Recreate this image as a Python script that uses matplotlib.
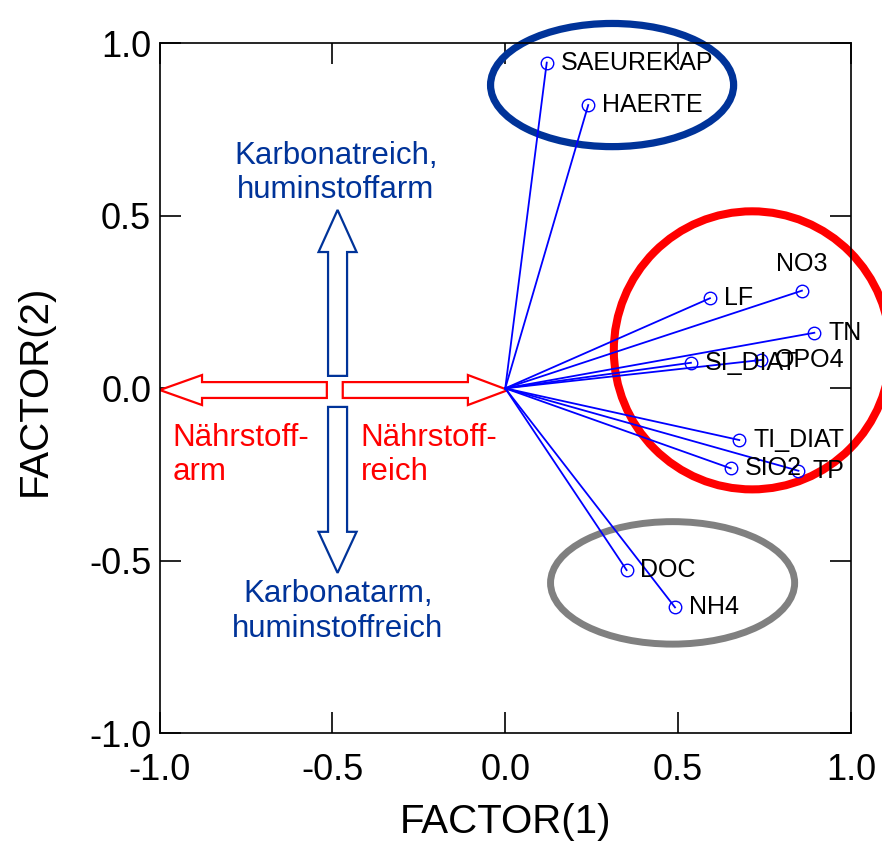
import matplotlib
matplotlib.use("Agg")
import matplotlib.pyplot as plt
from matplotlib.patches import Ellipse, FancyArrow

plt.rcParams['font.family'] = ['Liberation Sans', 'DejaVu Sans']

# ---- data ----
variables = ["SAEUREKAP", "HAERTE", "LF", "NO3", "TN", "SI_DIAT", "OPO4",
             "TI_DIAT", "SIO2", "TP", "DOC", "NH4"]
factor1 = [0.120, 0.240, 0.592, 0.858, 0.894, 0.537, 0.740,
           0.677, 0.652, 0.848, 0.351, 0.491]
factor2 = [0.944, 0.821, 0.261, 0.283, 0.161, 0.074, 0.082,
           -0.150, -0.232, -0.239, -0.527, -0.635]
ticks = [-1.0, -0.5, 0.0, 0.5, 1.0]
tick_labels = ["-1.0", "-0.5", "0.0", "0.5", "1.0"]

# label offsets in points (styling)
label_offsets = {"NO3": (0, 19)}
label_ha = {"NO3": "center"}

fig = plt.figure(figsize=(8.82, 8.42), dpi=100)
ax = fig.add_axes([159.5 / 882, 1 - 733.3 / 842, 691.5 / 882, 690 / 842])
ax.set_xlim(-1, 1)
ax.set_ylim(-1, 1)

line_blue = "#0000ff"
dark_blue = "#003399"

for name, x, y in zip(variables, factor1, factor2):
    ax.plot([0, x], [0, y], color=line_blue, lw=1.3, zorder=3)
    ax.plot([x], [y], marker="o", ms=9, mfc="none", mec=line_blue, mew=1.0, zorder=4)
    dx, dy = label_offsets.get(name, (10, 0))
    ax.annotate(name, (x, y), xytext=(dx, dy), textcoords="offset points",
                ha=label_ha.get(name, "left"), va="center", fontsize=18,
                color="black", zorder=5)

# ellipses
ax.add_patch(Ellipse((0.309, 0.879), 0.703, 0.357, fill=False, ec=dark_blue,
                     lw=5.2, clip_on=False, zorder=2))
ax.add_patch(Ellipse((0.714, 0.110), 0.80, 0.806, fill=False, ec="#ff0000",
                     lw=5.8, clip_on=False, zorder=2))
ax.add_patch(Ellipse((0.484, -0.564), 0.706, 0.355, fill=False, ec="#808080",
                     lw=5, clip_on=False, zorder=2))

# arrows
def arrow(x0, y0, x1, y1, w, hw, hl, color):
    ax.add_patch(FancyArrow(x0, y0, x1 - x0, y1 - y0, width=w, head_width=hw,
                            head_length=hl, length_includes_head=True,
                            fc="white", ec=color, lw=1.6, zorder=2))

arrow(-0.516, -0.005, -0.999, -0.005, 0.046, 0.087, 0.122, "#ff0000")
arrow(-0.470, -0.005, 0.008, -0.005, 0.046, 0.087, 0.116, "#ff0000")
arrow(-0.485, 0.036, -0.485, 0.517, 0.055, 0.11, 0.122, dark_blue)
arrow(-0.485, -0.054, -0.485, -0.535, 0.055, 0.11, 0.119, dark_blue)

# annotations
ax.text(-0.49, 0.624, "Karbonatreich,\nhuminstoffarm", ha="center", va="center",
        fontsize=22.5, color=dark_blue)
ax.text(-0.484, -0.647, "Karbonatarm,\nhuminstoffreich", ha="center", va="center",
        fontsize=22.5, color=dark_blue)
ax.text(-0.962, -0.193, "Nährstoff-\narm", ha="left", va="center",
        fontsize=22.5, color="#ff0000")
ax.text(-0.418, -0.193, "Nährstoff-\nreich", ha="left", va="center",
        fontsize=22.5, color="#ff0000")

ax.set_xticks(ticks)
ax.set_xticklabels(tick_labels)
ax.set_yticks(ticks)
ax.set_yticklabels(tick_labels)
ax.tick_params(direction="in", length=15, width=1.2, labelsize=26,
               top=True, right=True)
ax.tick_params(axis="x", pad=14)
ax.tick_params(axis="y", pad=6)
for sp in ax.spines.values():
    sp.set_linewidth(1.2)

fig.text(505 / 882, 1 - 822 / 842, "FACTOR(1)", ha="center", va="center", fontsize=29)
fig.text(35 / 882, 1 - 390 / 842, "FACTOR(2)", ha="center", va="center",
         fontsize=29, rotation=90)

fig.savefig("out.png", dpi=100)
